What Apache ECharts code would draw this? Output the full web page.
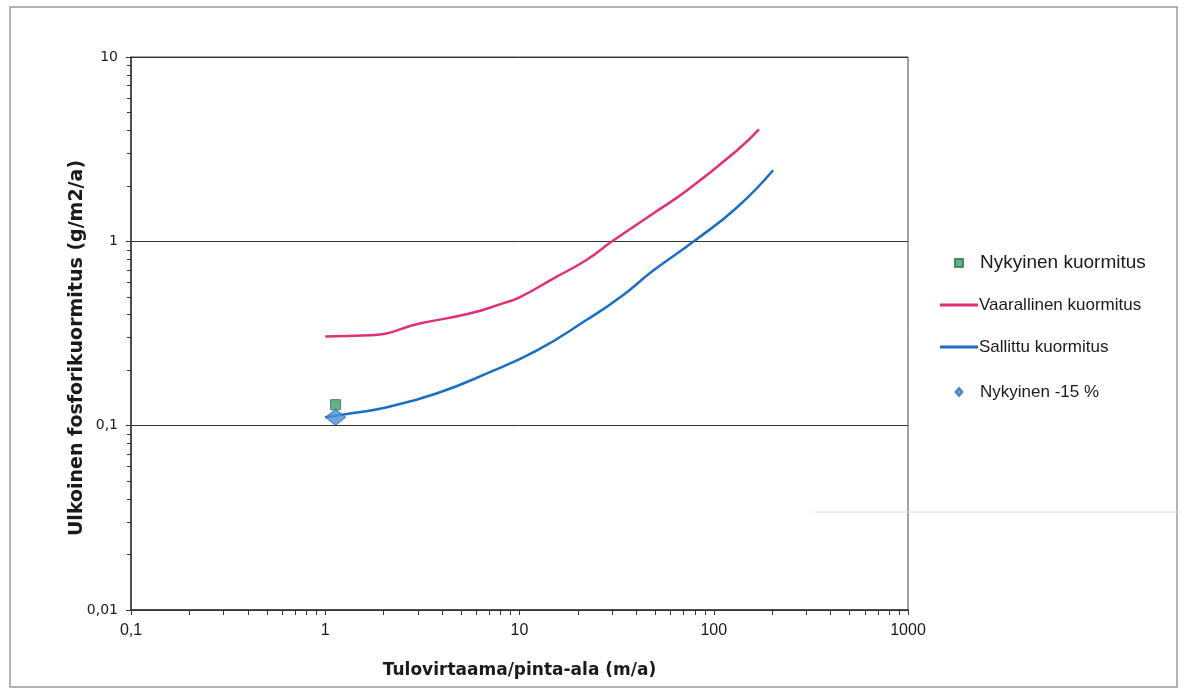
<!DOCTYPE html>
<html>
<head>
<meta charset="utf-8">
<script src="https://cdn.jsdelivr.net/npm/echarts@6/dist/echarts.min.js"></script>
<style>
html,body{margin:0;padding:0;background:#fff;}
#c{width:1185px;height:695px;}
</style>
</head>
<body>
<div id="c"></div>
<script>
// Data
var xTicks = [0.1, 1, 10, 100, 1000];
var yTicks = [0.01, 0.1, 1, 10];
var vaarallinenX = [1, 1.7, 3.1, 5.6, 8.2, 10, 15, 22, 30, 49, 73, 132, 171];
var vaarallinenY = [0.305, 0.309, 0.359, 0.407, 0.461, 0.497, 0.63, 0.79, 1.0, 1.42, 1.89, 3.12, 4.05];
var sallittuX = [1, 1.39, 2.08, 3.77, 6.8, 12.3, 22, 33, 49, 80, 132, 202];
var sallittuY = [0.111, 0.117, 0.126, 0.15, 0.192, 0.256, 0.373, 0.497, 0.696, 1.01, 1.53, 2.43];
var nykyinenX = [1.13];
var nykyinenY = [0.13];
var nykyinen15X = [1.13];
var nykyinen15Y = [0.111];
var yAxisTitle = 'Ulkoinen fosforikuormitus (g/m2/a)';
var xAxisTitle = 'Tulovirtaama/pinta-ala (m/a)';

function pairs(xs, ys){ return xs.map(function(x,i){ return [x, ys[i]]; }); }
function fmt(v){ return String(Number(v.toPrecision(6))).replace('.', ','); }

var legendBase = { orient: 'vertical', padding: 0, itemGap: 0 };
function mkLegend(name, icon, left, top, w, h, size, padLeft){
  return Object.assign({}, legendBase, {
    left: left, top: top, itemWidth: w, itemHeight: h, icon: icon,
    textStyle: { fontFamily: 'Liberation Sans', fontSize: size, lineHeight: 20, color: '#1a1a1a', padding: [0, 0, 0, padLeft] },
    data: [name]
  });
}

var chart = echarts.init(document.getElementById('c'));
chart.setOption({
  backgroundColor: '#ffffff',
  animation: false,
  graphic: [
    { type: 'rect', shape: { x: 10, y: 7, width: 1167, height: 680 }, style: { fill: 'none', stroke: '#9a9a9a', lineWidth: 1.5 }, silent: true },
    { type: 'line', shape: { x1: 815, y1: 512, x2: 1180, y2: 512 }, style: { stroke: '#d8d8d8', lineWidth: 1 }, silent: true },
    { type: 'text', x: 77, y: 348, rotation: Math.PI / 2, silent: true,
      style: { text: yAxisTitle, align: 'center', verticalAlign: 'middle', fill: '#1a1a1a',
               font: 'bold 19px "DejaVu Sans"' } }
  ],
  grid: { left: 131, right: 277, top: 57, bottom: 85, show: true, borderColor: '#444', borderWidth: 1, backgroundColor: 'transparent' },
  legend: [
    mkLegend('Nykyinen kuormitus', 'rect', 954, 253, 8, 8, 19, 12),
    mkLegend('Vaarallinen kuormitus', 'rect', 940, 295, 38, 3, 17, -4),
    mkLegend('Sallittu kuormitus', 'rect', 940, 337, 38, 3, 17, -4),
    mkLegend('Nykyinen -15 %', 'diamond', 954.5, 382, 7, 8, 17, 12.5)
  ],
  xAxis: {
    type: 'log', logBase: 10, min: xTicks[0], max: xTicks[xTicks.length-1],
    name: xAxisTitle, nameLocation: 'middle', nameGap: 52,
    nameTextStyle: { fontFamily: 'DejaVu Sans', fontWeight: 'bold', fontSize: 17, color: '#1a1a1a' },
    axisLine: { show: true, lineStyle: { color: '#333', width: 1.5 } },
    axisTick: { show: true, inside: false, length: 5, lineStyle: { color: '#333' } },
    minorTick: { show: true, splitNumber: 9, length: 5, lineStyle: { color: '#333' } },
    axisLabel: { formatter: fmt, fontFamily: 'Liberation Sans', fontSize: 16, color: '#1a1a1a', margin: 13 },
    splitLine: { show: false }
  },
  yAxis: {
    type: 'log', logBase: 10, min: yTicks[0], max: yTicks[yTicks.length-1],
    axisLine: { show: true, lineStyle: { color: '#333', width: 1.5 } },
    axisTick: { show: true, inside: false, length: 5, lineStyle: { color: '#333' } },
    minorTick: { show: true, splitNumber: 9, length: 4, lineStyle: { color: '#333' } },
    axisLabel: { formatter: fmt, fontFamily: 'DejaVu Sans', fontSize: 14, color: '#1a1a1a', margin: 13 },
    splitLine: { show: true, lineStyle: { color: '#333', width: 1 } }
  },
  series: [
    { name: 'Nykyinen kuormitus', type: 'scatter', data: pairs(nykyinenX, nykyinenY), symbol: 'rect', symbolSize: [10, 10], z: 5,
      itemStyle: { color: '#3d9f68', borderColor: '#2c7a4e', borderWidth: 1 } },
    { name: 'Vaarallinen kuormitus', type: 'line', data: pairs(vaarallinenX, vaarallinenY), smooth: 0.5, showSymbol: false, symbol: 'none',
      lineStyle: { color: '#e0307a', width: 2.5 }, itemStyle: { color: '#e0307a' } },
    { name: 'Sallittu kuormitus', type: 'line', data: pairs(sallittuX, sallittuY), smooth: 0.5, showSymbol: false, symbol: 'none',
      lineStyle: { color: '#1b6fc2', width: 2.5 }, itemStyle: { color: '#1b6fc2' } },
    { name: 'Nykyinen -15 %', type: 'scatter', data: pairs(nykyinen15X, nykyinen15Y), symbol: 'diamond', symbolSize: [20, 16], z: 6,
      itemStyle: { color: '#4d8fd6', borderColor: '#2f6fb5', borderWidth: 1 } }
  ]
});
</script>
</body>
</html>
